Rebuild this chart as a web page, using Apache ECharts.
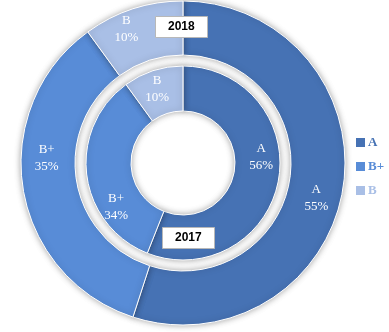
<!DOCTYPE html>
<html>
<head>
<meta charset="utf-8">
<script src="https://cdn.jsdelivr.net/npm/echarts@6/dist/echarts.min.js"></script>
<style>
  html, body { margin: 0; padding: 0; background: #fff; }
  #chart { width: 389px; height: 332px; }
</style>
</head>
<body>
<div id="chart"></div>
<script>
// Grades and their shares per year
var grades = ['A', 'B+', 'B'];
var share2018 = [55, 35, 10];
var share2017 = [56, 34, 10];
var yearLabels = ['2018', '2017'];

var gradeColors = ['#4672B4', '#588CD7', '#A9BFE6'];
var serifFont = '"Liberation Serif", "DejaVu Serif", serif';

// Per-slice nudges so each label sits in the open part of its slice
var outerNudge = [[-3, 13], [0, -27], [-14, -3]];
var innerNudge = [[2, -20], [10, 34], [-2, 0]];

function toData(values) {
  return grades.map(function (g, i) {
    return { name: g, value: values[i], itemStyle: { color: gradeColors[i] } };
  });
}

function ringSeries(name, values, radius, nudge) {
  return {
    name: name,
    type: 'pie',
    center: [183, 163],
    radius: radius,
    startAngle: 90,
    clockwise: true,
    avoidLabelOverlap: false,
    data: toData(values),
    itemStyle: {
      borderColor: '#ffffff',
      borderWidth: 1,
      shadowBlur: 6,
      shadowColor: 'rgba(0,0,0,0.35)'
    },
    label: {
      show: true,
      position: 'inside',
      formatter: '{b}\n{c}%',
      color: '#ffffff',
      fontFamily: serifFont,
      fontSize: 13,
      lineHeight: 17
    },
    labelLine: { show: false },
    labelLayout: function (p) {
      var n = nudge[p.dataIndex];
      return { dx: n[0], dy: n[1] };
    },
    emphasis: { disabled: true }
  };
}

function yearBox(text, left, top) {
  return {
    text: text,
    left: left,
    top: top,
    padding: [4, 13, 4, 13],
    backgroundColor: '#ffffff',
    borderColor: '#b8b8b8',
    borderWidth: 1,
    textStyle: {
      fontFamily: '"Liberation Sans", Arial, sans-serif',
      fontWeight: 'bold',
      fontSize: 12,
      color: '#000000',
      lineHeight: 14
    }
  };
}

var chart = echarts.init(document.getElementById('chart'), null, { renderer: 'canvas' });
chart.setOption({
  animation: false,
  backgroundColor: '#ffffff',
  title: [
    yearBox(yearLabels[0], 155, 16),
    yearBox(yearLabels[1], 162, 227)
  ],
  legend: {
    orient: 'vertical',
    left: 354,
    top: 136,
    padding: 0,
    icon: 'rect',
    itemWidth: 11,
    itemHeight: 11,
    itemGap: 11,
    selectedMode: false,
    data: grades.map(function (g, i) {
      return { name: g, textStyle: { color: gradeColors[i] } };
    }),
    textStyle: {
      fontFamily: serifFont,
      fontWeight: 'bold',
      fontSize: 13,
      padding: [0, 0, 0, -3]
    }
  },
  series: [
    ringSeries(yearLabels[0], share2018, [108, 162], outerNudge),
    ringSeries(yearLabels[1], share2017, [52, 97], innerNudge)
  ]
});
</script>
</body>
</html>
